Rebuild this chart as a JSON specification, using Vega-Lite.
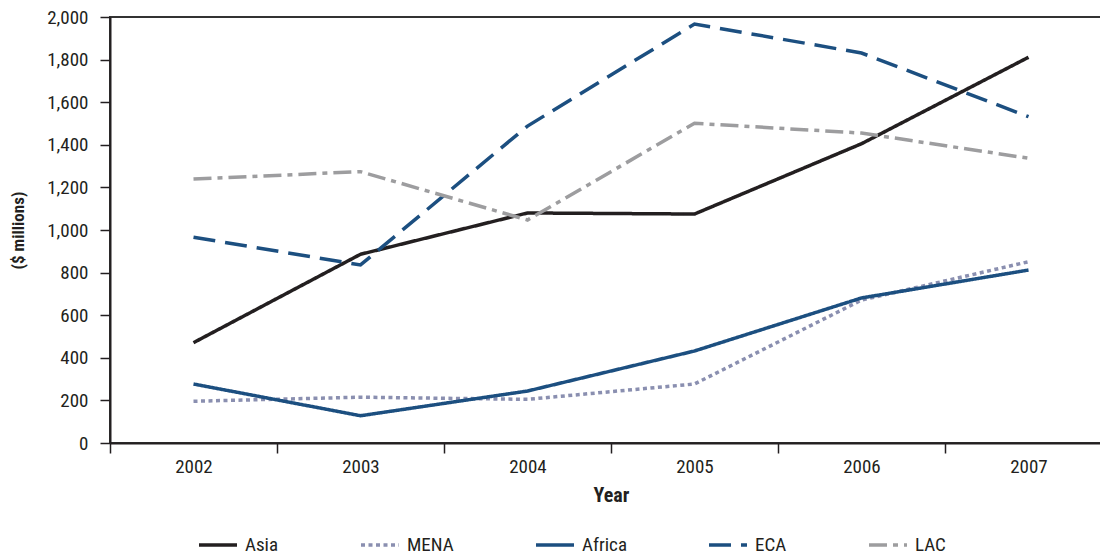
{
  "$schema": "https://vega.github.io/schema/vega-lite/v6.json",
  "autosize": {"type": "none"},
  "width": 1002,
  "height": 426,
  "padding": {"left": 110, "top": 17, "right": 0, "bottom": 113},
  "background": "white",
  "config": {
    "font": "Roboto Condensed, Roboto, sans-serif",
    "view": {"stroke": "#333333", "strokeWidth": 2}
  },
  "data": {
    "values": [
      {"year": "2002", "region": "Asia", "value": 471},
      {"year": "2003", "region": "Asia", "value": 886},
      {"year": "2004", "region": "Asia", "value": 1080},
      {"year": "2005", "region": "Asia", "value": 1075},
      {"year": "2006", "region": "Asia", "value": 1405},
      {"year": "2007", "region": "Asia", "value": 1811},
      {"year": "2002", "region": "MENA", "value": 196},
      {"year": "2003", "region": "MENA", "value": 215},
      {"year": "2004", "region": "MENA", "value": 205},
      {"year": "2005", "region": "MENA", "value": 277},
      {"year": "2006", "region": "MENA", "value": 671},
      {"year": "2007", "region": "MENA", "value": 851},
      {"year": "2002", "region": "Africa", "value": 277},
      {"year": "2003", "region": "Africa", "value": 128},
      {"year": "2004", "region": "Africa", "value": 244},
      {"year": "2005", "region": "Africa", "value": 432},
      {"year": "2006", "region": "Africa", "value": 681},
      {"year": "2007", "region": "Africa", "value": 812},
      {"year": "2002", "region": "ECA", "value": 966},
      {"year": "2003", "region": "ECA", "value": 836},
      {"year": "2004", "region": "ECA", "value": 1488},
      {"year": "2005", "region": "ECA", "value": 1967},
      {"year": "2006", "region": "ECA", "value": 1831},
      {"year": "2007", "region": "ECA", "value": 1532},
      {"year": "2002", "region": "LAC", "value": 1239},
      {"year": "2003", "region": "LAC", "value": 1274},
      {"year": "2004", "region": "LAC", "value": 1047},
      {"year": "2005", "region": "LAC", "value": 1501},
      {"year": "2006", "region": "LAC", "value": 1455},
      {"year": "2007", "region": "LAC", "value": 1337}
    ]
  },
  "mark": {"type": "line", "strokeWidth": 3.5, "strokeCap": "butt", "strokeJoin": "miter", "clip": false},
  "encoding": {
    "x": {
      "field": "year",
      "type": "ordinal",
      "bandPosition": 0.5,
      "scale": {"type": "band", "paddingInner": 0, "paddingOuter": 0},
      "axis": {
        "title": "Year",
        "titleFontSize": 20,
        "titleFontWeight": "bold",
        "titleColor": "#231f20",
        "titleY": 52,
        "titleBaseline": "middle",
        "labelAngle": 0,
        "labelFontSize": 19,
        "labelColor": "#231f20",
        "labelPadding": 4,
        "tickBand": "extent",
        "tickSize": 10,
        "tickColor": "#231f20",
        "tickWidth": 1.5,
        "domainColor": "#231f20",
        "domainWidth": 2,
        "grid": false
      }
    },
    "y": {
      "field": "value",
      "type": "quantitative",
      "scale": {"domain": [0, 2000], "nice": false},
      "axis": {
        "title": "($ millions)",
        "titleFontSize": 17,
        "titleFontWeight": "bold",
        "titleColor": "#231f20",
        "titleX": -92,
        "titleY": 213,
        "titleAngle": -90,
        "titleAlign": "center",
        "titleBaseline": "middle",
        "values": [0, 200, 400, 600, 800, 1000, 1200, 1400, 1600, 1800, 2000],
        "format": ",d",
        "labelFontSize": 19,
        "labelColor": "#231f20",
        "labelPadding": 12,
        "tickSize": 10,
        "tickColor": "#231f20",
        "tickWidth": 1.5,
        "domainColor": "#231f20",
        "domainWidth": 2,
        "grid": false
      }
    },
    "color": {
      "field": "region",
      "type": "nominal",
      "scale": {
        "domain": ["Asia", "MENA", "Africa", "ECA", "LAC"],
        "range": ["#231f20", "#8a8fb0", "#1c4f80", "#1c4f80", "#9d9d9f"]
      },
      "legend": {
        "title": null,
        "orient": "none",
        "legendX": 87,
        "legendY": 507,
        "direction": "horizontal",
        "columns": 5,
        "columnPadding": 75,
        "symbolType": "stroke",
        "symbolSize": 1444,
        "symbolStrokeWidth": 3.5,
        "labelFontSize": 19,
        "labelColor": "#231f20",
        "labelOffset": 6
      }
    },
    "strokeDash": {
      "field": "region",
      "type": "nominal",
      "scale": {
        "domain": ["Asia", "MENA", "Africa", "ECA", "LAC"],
        "range": [[1, 0], [4, 3.5], [1, 0], [22, 10], [18, 6, 5, 6]]
      },
      "legend": null
    }
  }
}
